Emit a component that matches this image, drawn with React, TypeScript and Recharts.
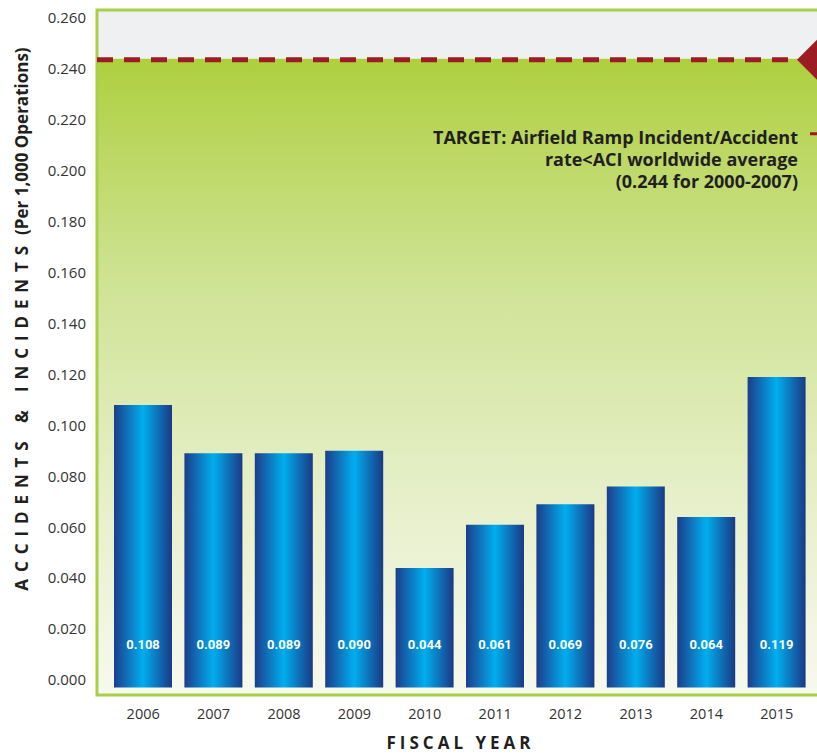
import React from "react";
import { BarChart, Bar, XAxis, YAxis, ReferenceArea, ReferenceLine, LabelList } from "recharts";

const years = ["2006", "2007", "2008", "2009", "2010", "2011", "2012", "2013", "2014", "2015"];
const rates = [0.108, 0.089, 0.089, 0.09, 0.044, 0.061, 0.069, 0.076, 0.064, 0.119];
const yTicks = [0, 0.02, 0.04, 0.06, 0.08, 0.1, 0.12, 0.14, 0.16, 0.18, 0.2, 0.22, 0.24, 0.26];
const targetRate = 0.244;
const targetLines = ["TARGET: Airfield Ramp Incident/Accident", "rate<ACI worldwide average", "(0.244 for 2000-2007)"];
const barBase = -0.003;
const yMin = -0.0059;
const yMax = 0.2631;

const data = years.map((year, i) => ({ year, range: [barBase, rates[i]], rate: rates[i] }));
const lastIndex = years.length - 1;

const FONT = "'Open Sans', 'Noto Sans', sans-serif";
const RED = "#9b1c22";

const BarValue = (props: any) => {
  const { x, y, width, height, value } = props;
  return (
    <text x={x + width / 2} y={y + height - 43} fill="#fff" fontSize={13} fontWeight={700}
      fontFamily="Roboto, sans-serif" textAnchor="middle" dominantBaseline="central">
      {Number(value).toFixed(3)}
    </text>
  );
};

// dashed target line + arrow head + note, drawn in the label layer so it sits on top of the panels
const TargetMark = (props: any) => {
  const vb = props.viewBox || {};
  const left = vb.x;
  const right = vb.x + vb.width;
  const y = vb.y + 1;
  const tipX = right - 33;
  return (
    <g>
      <line x1={left} y1={y} x2={tipX} y2={y} stroke={RED} strokeWidth={5} strokeDasharray="16 11" />
      <polygon points={`${tipX},${y} ${tipX + 25},${y - 25} ${tipX + 50},${y} ${tipX + 25},${y + 25}`} fill={RED} />
      <polyline points={`${right - 20},${y + 74} ${right - 6},${y + 74} ${right - 6},${y}`} fill="none" stroke={RED} strokeWidth={3} />
      {targetLines.map((t, i) => (
        <text key={i} x={tipX + 1} y={y + 84 + i * 22} textAnchor="end" fontSize={18} fontWeight={700}
          fontFamily={FONT} fill="#231f20">
          {t}
        </text>
      ))}
    </g>
  );
};

const XTitle = (props: any) => {
  const vb = props.viewBox || {};
  return (
    <text x={vb.x + vb.width / 2 - 3} y={vb.y + vb.height + 24} textAnchor="middle" fontSize={17}
      fontWeight={700} fontFamily={FONT} fill="#231f20" letterSpacing={4}>
      FISCAL YEAR
    </text>
  );
};

const YTitle = () => {
  const cx = 21;
  const cy = 319;
  return (
    <text x={cx} y={cy} transform={`rotate(-90 ${cx} ${cy})`} textAnchor="middle" dominantBaseline="central"
      fontSize={17} fontWeight={700} fontFamily={FONT} fill="#231f20">
      <tspan letterSpacing={6.9}>ACCIDENTS &amp; INCIDENTS</tspan>
      <tspan dx={4}>(Per 1,000 Operations)</tspan>
    </text>
  );
};

export default function App() {
  return (
    <div style={{ position: "absolute", left: 0, top: 0, width: 817, height: 754, overflow: "hidden", background: "#fff" }}>
      <BarChart width={840} height={754} data={data} margin={{ top: 10, right: 10, bottom: 29, left: 0 }}>
        <defs>
          <linearGradient id="bgGrad" x1="0" y1="0" x2="0" y2="1">
            <stop offset="0%" stopColor="#aecf3f" />
            <stop offset="35%" stopColor="#cfe394" />
            <stop offset="65%" stopColor="#e4eec4" />
            <stop offset="100%" stopColor="#f7f9ef" />
          </linearGradient>
          <linearGradient id="barGrad" x1="0" y1="0" x2="1" y2="0">
            <stop offset="0%" stopColor="#1c3e8b" />
            <stop offset="50%" stopColor="#00aeef" />
            <stop offset="100%" stopColor="#1b3985" />
          </linearGradient>
        </defs>
        <XAxis dataKey="year" axisLine={false} tickLine={false} tickSize={0} tickMargin={14} height={30}
          padding={{ left: 11, right: 18 }} interval={0}
          tick={{ fontSize: 14.5, fill: "#333", fontFamily: FONT }} label={<XTitle />} />
        {/* plain linear axis spanning the whole plot, used only for the background panels */}
        <XAxis xAxisId="frame" type="number" domain={[0, lastIndex]} allowDataOverflow hide />
        <YAxis type="number" domain={[yMin, yMax]} allowDataOverflow ticks={yTicks} width={97}
          axisLine={false} tickLine={false} tickSize={0} tickMargin={11}
          tickFormatter={(v: number) => v.toFixed(3)}
          tick={{ fontSize: 15, fill: "#333", fontFamily: FONT }} label={<YTitle />} />
        <ReferenceArea xAxisId="frame" x1={0} x2={lastIndex} y1={targetRate} y2={yMax} fill="#eff0f2" fillOpacity={1} stroke="none" />
        <ReferenceArea xAxisId="frame" x1={0} x2={lastIndex} y1={yMin} y2={targetRate} fill="url(#bgGrad)" fillOpacity={1} stroke="none" />
        <ReferenceArea xAxisId="frame" x1={0} x2={lastIndex} y1={yMin} y2={yMax} fill="none" stroke="#a9cf46" strokeWidth={3} />
        <Bar dataKey="range" barSize={58} fill="url(#barGrad)" isAnimationActive={false}>
          <LabelList dataKey="rate" content={<BarValue />} />
        </Bar>
        <ReferenceLine xAxisId="frame" y={targetRate} stroke="none" label={<TargetMark />} />
      </BarChart>
    </div>
  );
}
